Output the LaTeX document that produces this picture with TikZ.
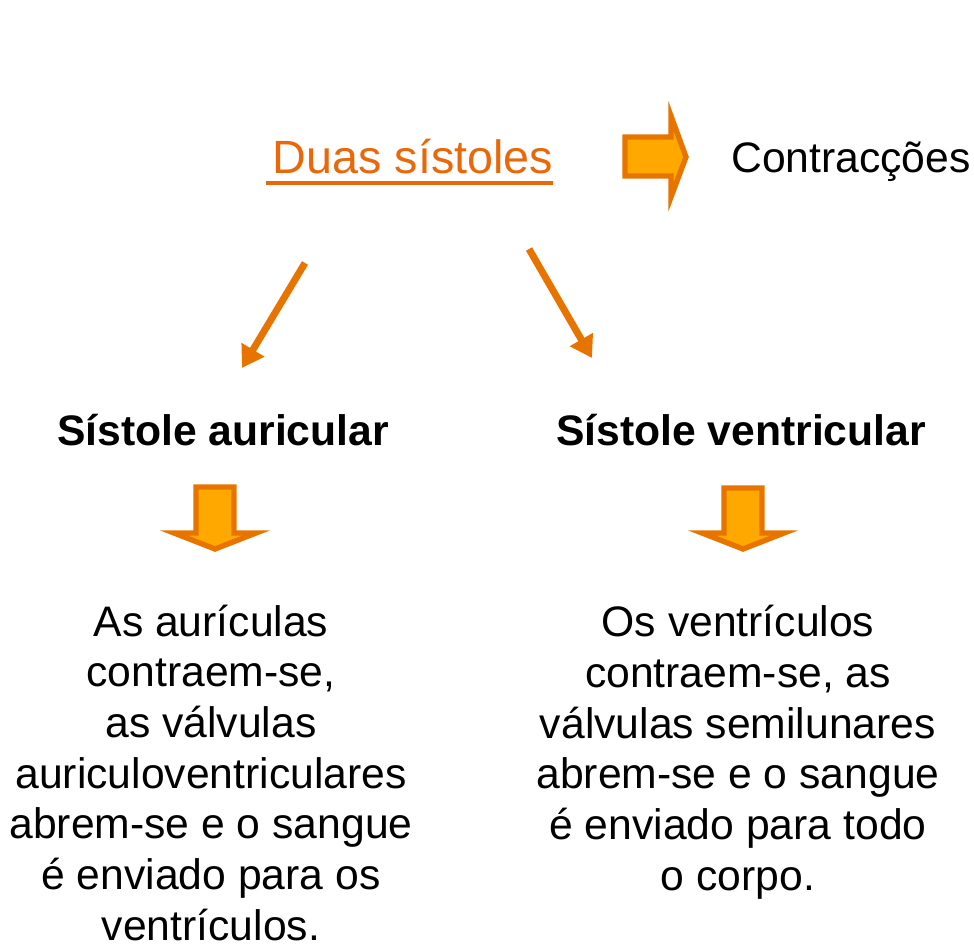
\documentclass[tikz,border=0pt]{standalone}
\usepackage{fontspec}
\setmainfont{Liberation Sans}
\usetikzlibrary{arrows.meta}
\definecolor{ordark}{HTML}{E87400}
\definecolor{orfill}{HTML}{FFA800}
\definecolor{ortext}{HTML}{E8680A}
\tikzset{
  body/.style={font=\fontsize{32}{38}\selectfont, align=center, inner sep=0pt, anchor=base},
  head/.style={font=\fontsize{32}{38}\selectfont\bfseries, inner sep=0pt, anchor=base},
  diag/.style={draw=ordark, line width=5.25pt, -{Triangle[length=16pt,width=19pt]}},
  blockarrow/.style={draw=ordark, fill=orfill, line width=4pt, line join=miter},
}
\begin{document}
\begin{tikzpicture}[x=0.75pt,y=-0.75pt]
\useasboundingbox (0,0) rectangle (974,947);
% title
\node[inner sep=0pt, anchor=base, text=ortext, font=\fontsize{35}{42}\selectfont] (title) at (413,173) {Duas sístoles};
\draw[ortext, line width=3pt] (266,183) -- (553,183);
% right block arrow
\draw[blockarrow] (625,137) -- (671,137) -- (671,116) -- (686,157) -- (671,197) -- (671,176) -- (625,176) -- cycle;
\node[inner sep=0pt, anchor=base, font=\fontsize{32}{38}\selectfont] (contr) at (851,172) {Contracções};
% diagonal arrows
\coordinate (l1) at (305,263);
\coordinate (l2) at (242,368);
\coordinate (r1) at (529,249);
\coordinate (r2) at (592,358);
\draw[diag] (l1) -- (l2);
\draw[diag] (r1) -- (r2);
% headings
\node[head] (sa) at (223,445) {Sístole auricular};
\node[head] (sv) at (741,445) {Sístole ventricular};
% down block arrows
\draw[blockarrow] (196,487) -- (234,487) -- (234,533) -- (256,533) -- (215,549) -- (174,533) -- (196,533) -- cycle;
\draw[blockarrow] (724,488) -- (762,488) -- (762,533) -- (784,533) -- (743,549) -- (702,533) -- (724,533) -- cycle;
% body texts (base anchor = last line's baseline)
\node[body] (ta) at (211,940) {As aurículas\\contraem-se,\\as válvulas\\auriculoventriculares\\abrem-se e o sangue\\é enviado para os\\ventrículos.};
\node[body] (tv) at (738,890) {Os ventrículos\\contraem-se, as\\válvulas semilunares\\abrem-se e o sangue\\é enviado para todo\\o corpo.};
\end{tikzpicture}
\end{document}
